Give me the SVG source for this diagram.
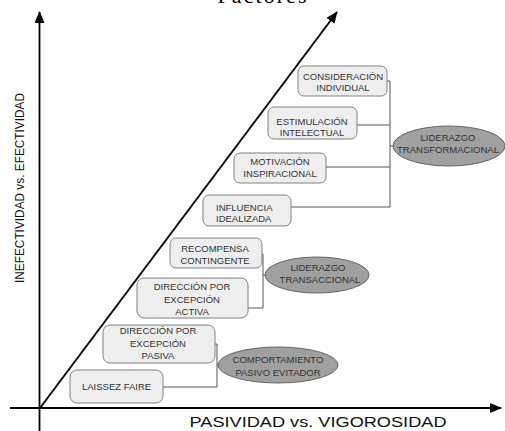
<svg xmlns="http://www.w3.org/2000/svg" width="505" height="431" viewBox="0 0 505 431">
<style>
.box{fill:#eeeeee;stroke:#808080;stroke-width:1}
.ell{fill:#a0a0a0;stroke:#666;stroke-width:1}
.t{font-family:"Liberation Sans",Arial,sans-serif;font-size:9.5px;fill:#333;text-anchor:middle}
.tl{font-family:"Liberation Sans",Arial,sans-serif;font-size:9.5px;fill:#333}
.con{stroke:#555;stroke-width:1;fill:none}
.axis{stroke:#000;stroke-width:1.8;fill:none}
.lab{font-family:"Liberation Sans",Arial,sans-serif;fill:#111}
</style>
<defs>
<marker id="ah" markerUnits="userSpaceOnUse" markerWidth="12" markerHeight="10" refX="11" refY="5" orient="auto">
<path d="M0,0 L12,5 L0,10 Z" fill="#000"/>
</marker>
</defs>
<rect width="505" height="431" fill="#fff"/>
<text x="262" y="3" font-family="Liberation Serif,Times New Roman,serif" font-size="22" text-anchor="middle" textLength="89" fill="#000">Factores</text>
<g id="axes">
<line class="axis" x1="39.5" y1="431" x2="39.5" y2="12" marker-end="url(#ah)"/>
<line class="axis" x1="10" y1="408" x2="501" y2="408" marker-end="url(#ah)"/>
<line class="axis" x1="40" y1="408" x2="337" y2="12" marker-end="url(#ah)"/>
</g>
<text class="lab" x="318" y="427" font-size="15" text-anchor="middle" textLength="257" lengthAdjust="spacingAndGlyphs">PASIVIDAD vs. VIGOROSIDAD</text>
<text class="lab" transform="translate(24,188) rotate(-90)" x="0" y="0" font-size="13" text-anchor="middle" textLength="190" lengthAdjust="spacingAndGlyphs">INEFECTIVIDAD vs. EFECTIVIDAD</text>
<g id="connectors">
<path class="con" d="M387,81 H390 V207 M357,125 H390 M326,167 H390 M291,207 H390 M390,146 H393"/>
<path class="con" d="M262,254 H263 V308 M248,308 H263 M263,275 H265"/>
<path class="con" d="M215,344 H217 V387 M163,387 H217 M217,365 H218"/>
</g>
<g id="consideracion">
<rect class="box" x="298" y="66" width="89" height="30" rx="6"/>
<text class="t" x="343" y="79.5">CONSIDERACIÓN</text>
<text class="t" x="343" y="90.5">INDIVIDUAL</text>
</g>
<g id="estimulacion">
<rect class="box" x="268" y="107" width="89" height="32" rx="6"/>
<text class="t" x="312" y="124.5">ESTIMULACIÓN</text>
<text class="t" x="312" y="135.5">INTELECTUAL</text>
</g>
<g id="motivacion">
<rect class="box" x="234" y="153" width="92" height="30" rx="6"/>
<text class="t" x="280" y="164.5">MOTIVACIÓN</text>
<text class="t" x="280" y="176.5">INSPIRACIONAL</text>
</g>
<g id="influencia">
<rect class="box" x="203" y="195" width="88" height="31" rx="6"/>
<text class="tl" x="216" y="210.5">INFLUENCIA</text>
<text class="tl" x="216" y="221.5">IDEALIZADA</text>
</g>
<g id="recompensa">
<rect class="box" x="170" y="238" width="92" height="30" rx="6"/>
<text class="t" x="215" y="251.5">RECOMPENSA</text>
<text class="t" x="215" y="263.5">CONTINGENTE</text>
</g>
<g id="activa">
<rect class="box" x="137" y="278" width="111" height="40" rx="7"/>
<text class="t" x="192" y="289.5">DIRECCIÓN POR</text>
<text class="t" x="192" y="302.5">EXCEPCIÓN</text>
<text class="t" x="192" y="314.5">ACTIVA</text>
</g>
<g id="pasiva">
<rect class="box" x="103" y="325" width="112" height="38" rx="7"/>
<text class="t" x="158" y="333.5">DIRECCIÓN POR</text>
<text class="t" x="158" y="346.5">EXCEPCIÓN</text>
<text class="t" x="158" y="358.5">PASIVA</text>
</g>
<g id="laissez">
<rect class="box" x="70" y="370" width="93" height="33" rx="7"/>
<text class="tl" x="82" y="389.5">LAISSEZ FAIRE</text>
</g>
<g id="transformacional">
<ellipse class="ell" cx="449" cy="146" rx="56" ry="20"/>
<text class="t" x="448" y="140.5">LIDERAZGO</text>
<text class="t" x="448" y="152.5">TRANSFORMACIONAL</text>
</g>
<g id="transaccional">
<ellipse class="ell" cx="317" cy="275" rx="52" ry="18"/>
<text class="t" x="318" y="270.5">LIDERAZGO</text>
<text class="t" x="320" y="282.5">TRANSACCIONAL</text>
</g>
<g id="comportamiento">
<ellipse class="ell" cx="278" cy="365" rx="60" ry="18"/>
<text class="t" x="278" y="362.5">COMPORTAMIENTO</text>
<text class="t" x="278" y="375.5">PASIVO EVITADOR</text>
</g>
</svg>
